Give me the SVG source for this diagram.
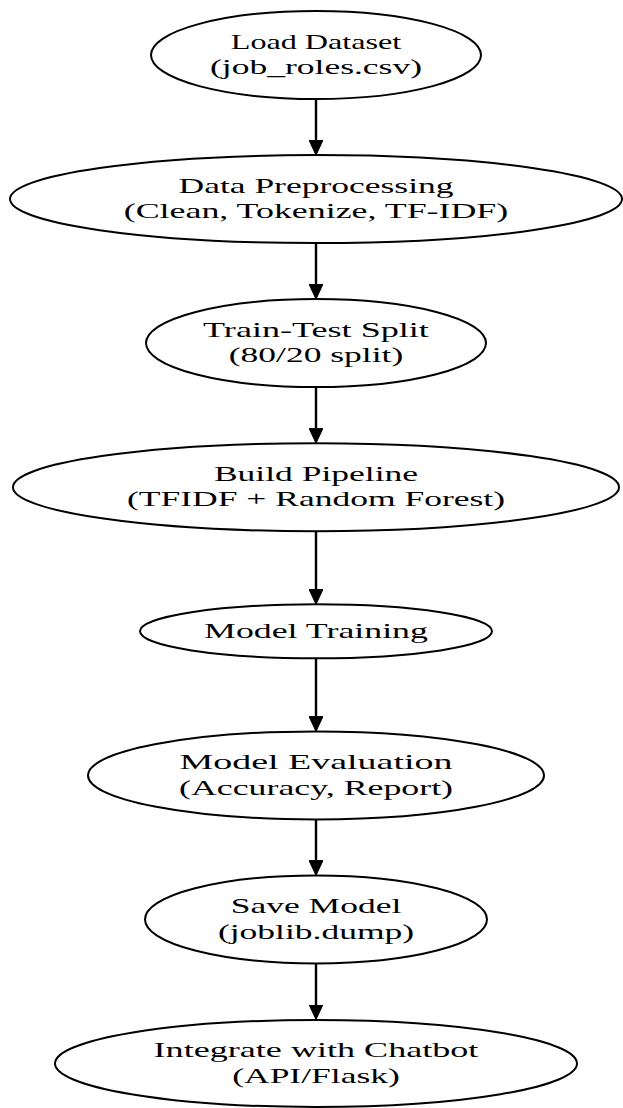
<svg xmlns="http://www.w3.org/2000/svg" width="623" height="1108" viewBox="0 0 623 1108">
<defs>
<style>
.node ellipse{fill:#ffffff;stroke:#000000;stroke-width:2}
.node text{font-family:"Liberation Serif","Times New Roman",serif;font-size:21.5px;fill:#000000;text-anchor:middle}
.edges path{fill:none;stroke:#000000;stroke-width:2.4}
</style>
<marker id="arrow" viewBox="0 0 15 14" refX="1" refY="7" markerWidth="15" markerHeight="14" markerUnits="userSpaceOnUse" orient="auto">
<path d="M0,0 L15,7 L0,14 Z" fill="#000000" stroke="#000000" stroke-width="1"/>
</marker>
</defs>
<rect width="623" height="1108" fill="#ffffff"/>
<g id="edges" class="edges">
<path d="M316,99 L316,141.1" marker-end="url(#arrow)"/>
<path d="M316,243.1 L316,285.1" marker-end="url(#arrow)"/>
<path d="M316,387.1 L316,429.2" marker-end="url(#arrow)"/>
<path d="M316,531.2 L316,590.3" marker-end="url(#arrow)"/>
<path d="M316,658.3 L316,717.4" marker-end="url(#arrow)"/>
<path d="M316,819.4 L316,861.4" marker-end="url(#arrow)"/>
<path d="M316,963.4 L316,1005.5" marker-end="url(#arrow)"/>
</g>
<g id="load_dataset" class="node">
<ellipse cx="316" cy="55" rx="165" ry="44"/>
<text x="316" y="48.6" textLength="170.5" lengthAdjust="spacingAndGlyphs">Load Dataset</text>
<text x="316" y="74.1" textLength="212" lengthAdjust="spacingAndGlyphs">(job_roles.csv)</text>
</g>
<g id="data_preprocessing" class="node">
<ellipse cx="316" cy="199.1" rx="306" ry="44"/>
<text x="316" y="192.7" textLength="275" lengthAdjust="spacingAndGlyphs">Data Preprocessing</text>
<text x="316" y="218.2" textLength="384.5" lengthAdjust="spacingAndGlyphs">(Clean, Tokenize, TF-IDF)</text>
</g>
<g id="train_test_split" class="node">
<ellipse cx="316" cy="343.1" rx="170" ry="44"/>
<text x="316" y="336.7" textLength="225.8" lengthAdjust="spacingAndGlyphs">Train-Test Split</text>
<text x="316" y="362.2" textLength="174.5" lengthAdjust="spacingAndGlyphs">(80/20 split)</text>
</g>
<g id="build_pipeline" class="node">
<ellipse cx="316" cy="487.2" rx="303" ry="44"/>
<text x="316" y="480.8" textLength="204.2" lengthAdjust="spacingAndGlyphs">Build Pipeline</text>
<text x="316" y="506.3" textLength="378" lengthAdjust="spacingAndGlyphs">(TFIDF + Random Forest)</text>
</g>
<g id="model_training" class="node">
<ellipse cx="316" cy="631.3" rx="176" ry="27"/>
<text x="316" y="637.7" textLength="223.8" lengthAdjust="spacingAndGlyphs">Model Training</text>
</g>
<g id="model_evaluation" class="node">
<ellipse cx="316" cy="775.4" rx="228" ry="44"/>
<text x="316" y="769" textLength="273.1" lengthAdjust="spacingAndGlyphs">Model Evaluation</text>
<text x="316" y="794.5" textLength="274" lengthAdjust="spacingAndGlyphs">(Accuracy, Report)</text>
</g>
<g id="save_model" class="node">
<ellipse cx="316" cy="919.4" rx="171" ry="44"/>
<text x="316" y="913" textLength="170.6" lengthAdjust="spacingAndGlyphs">Save Model</text>
<text x="316" y="938.5" textLength="196.2" lengthAdjust="spacingAndGlyphs">(joblib.dump)</text>
</g>
<g id="integrate_chatbot" class="node">
<ellipse cx="316" cy="1063.5" rx="261" ry="43.5"/>
<text x="316" y="1057.1" textLength="324.8" lengthAdjust="spacingAndGlyphs">Integrate with Chatbot</text>
<text x="316" y="1082.6" textLength="167.6" lengthAdjust="spacingAndGlyphs">(API/Flask)</text>
</g>
</svg>
